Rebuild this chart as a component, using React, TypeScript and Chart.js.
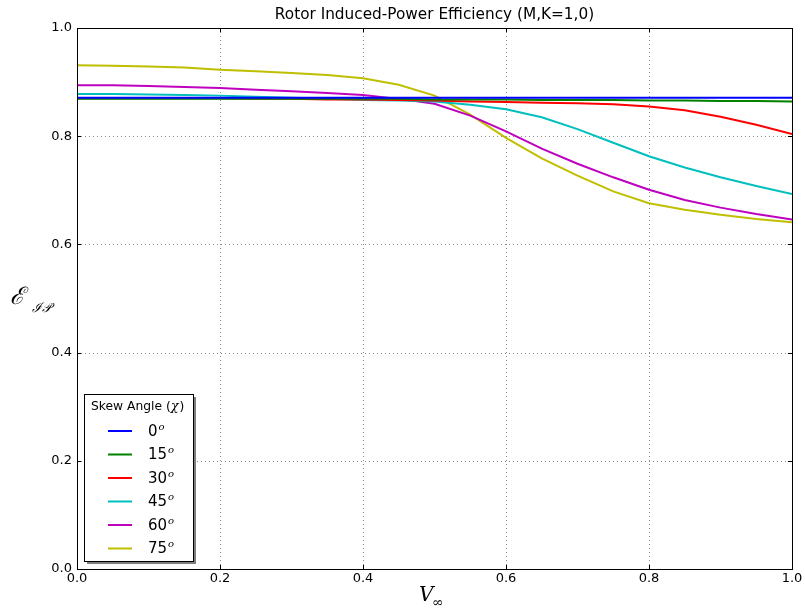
import React, { useEffect, useRef } from "react";
import { Chart, registerables } from "chart.js";

Chart.register(...registerables);

const speeds = [0, 0.05, 0.1, 0.15, 0.2, 0.25, 0.3, 0.35, 0.4, 0.45, 0.5, 0.55, 0.6, 0.65, 0.7, 0.75, 0.8, 0.85, 0.9, 0.95, 1.0];
const skew0 = [0.871, 0.871, 0.871, 0.871, 0.871, 0.871, 0.871, 0.871, 0.871, 0.871, 0.871, 0.871, 0.871, 0.871, 0.871, 0.871, 0.871, 0.871, 0.871, 0.871, 0.871];
const skew15 = [0.869, 0.869, 0.869, 0.869, 0.869, 0.869, 0.869, 0.869, 0.869, 0.869, 0.868, 0.868, 0.868, 0.867, 0.867, 0.867, 0.866, 0.866, 0.865, 0.865, 0.864];
const skew30 = [0.870, 0.870, 0.870, 0.870, 0.870, 0.869, 0.869, 0.868, 0.868, 0.867, 0.866, 0.864, 0.863, 0.862, 0.861, 0.859, 0.855, 0.848, 0.836, 0.821, 0.804];
const skew45 = [0.878, 0.878, 0.877, 0.876, 0.875, 0.873, 0.871, 0.869, 0.867, 0.866, 0.864, 0.858, 0.850, 0.835, 0.813, 0.788, 0.763, 0.742, 0.724, 0.708, 0.693];
const skew60 = [0.894, 0.894, 0.893, 0.891, 0.889, 0.886, 0.883, 0.880, 0.876, 0.869, 0.860, 0.838, 0.809, 0.777, 0.749, 0.724, 0.701, 0.682, 0.668, 0.656, 0.646];
const skew75 = [0.931, 0.930, 0.929, 0.927, 0.923, 0.920, 0.917, 0.913, 0.907, 0.895, 0.875, 0.840, 0.797, 0.759, 0.727, 0.698, 0.676, 0.664, 0.655, 0.647, 0.641];
const tickValues = [0, 0.2, 0.4, 0.6, 0.8, 1.0];
const seriesNames = ["0", "15", "30", "45", "60", "75"];
const seriesColors = ["#0000ff", "#008000", "#ff0000", "#00bfbf", "#bf00bf", "#bfbf00"];
const titleText = "Rotor Induced-Power Efficiency (M,K=1,0)";
const legendTitle = "Skew Angle (";

const SANS = "'DejaVu Sans', sans-serif";
const SERIF = "'DejaVu Serif', serif";

const drawPlugin = {
  id: "mplStyle",
  beforeDatasetsDraw(chart: any) {
    const { ctx, chartArea: a, scales } = chart;
    ctx.save();
    ctx.strokeStyle = "#8a8a8a";
    ctx.lineWidth = 1;
    ctx.setLineDash([1, 3]);
    for (const t of tickValues) {
      const x = Math.round(scales.x.getPixelForValue(t)) + 0.5;
      ctx.beginPath();
      ctx.moveTo(x, a.top);
      ctx.lineTo(x, a.bottom);
      ctx.stroke();
      const y = Math.round(scales.y.getPixelForValue(t)) + 0.5;
      ctx.beginPath();
      ctx.moveTo(a.left, y);
      ctx.lineTo(a.right, y);
      ctx.stroke();
    }
    ctx.restore();
  },
  afterDraw(chart: any) {
    const { ctx, chartArea: a, scales } = chart;
    ctx.save();
    // frame
    ctx.strokeStyle = "#000";
    ctx.lineWidth = 1;
    ctx.setLineDash([]);
    ctx.strokeRect(Math.round(a.left) + 0.5, Math.round(a.top) + 0.5, Math.round(a.right - a.left), Math.round(a.bottom - a.top));
    // ticks inward
    for (const t of tickValues) {
      const x = Math.round(scales.x.getPixelForValue(t)) + 0.5;
      ctx.beginPath();
      ctx.moveTo(x, a.bottom);
      ctx.lineTo(x, a.bottom - 4);
      ctx.moveTo(x, a.top);
      ctx.lineTo(x, a.top + 4);
      ctx.stroke();
      const y = Math.round(scales.y.getPixelForValue(t)) + 0.5;
      ctx.beginPath();
      ctx.moveTo(a.left, y);
      ctx.lineTo(a.left + 4, y);
      ctx.moveTo(a.right, y);
      ctx.lineTo(a.right - 4, y);
      ctx.stroke();
    }
    // tick labels
    ctx.fillStyle = "#000";
    ctx.font = `13px ${SANS}`;
    ctx.textAlign = "center";
    ctx.textBaseline = "top";
    for (const t of tickValues) {
      ctx.fillText(t.toFixed(1), scales.x.getPixelForValue(t), a.bottom + 3);
    }
    ctx.textAlign = "right";
    ctx.textBaseline = "middle";
    for (const t of tickValues) {
      ctx.fillText(t.toFixed(1), a.left - 5, scales.y.getPixelForValue(t));
    }
    // title
    ctx.font = `15.3px ${SANS}`;
    ctx.textAlign = "center";
    ctx.textBaseline = "middle";
    ctx.fillText(titleText, (a.left + a.right) / 2, 15);
    // x label
    ctx.textAlign = "left";
    ctx.textBaseline = "alphabetic";
    ctx.font = `italic 20px ${SERIF}`;
    ctx.fillText("V", 419, 601);
    ctx.font = `14px ${SERIF}`;
    ctx.fillText("\u221e", 432, 607);
    // y label
    ctx.font = `italic 24px ${SERIF}`;
    ctx.fillText("\u2130", 10, 304);
    ctx.font = `italic 13px ${SERIF}`;
    ctx.fillText("\u2110\ud835\udcab", 32, 312);
    // legend
    const lx = 84, ly = 394, lw = 109, lh = 167;
    ctx.fillStyle = "rgba(0,0,0,0.5)";
    ctx.fillRect(lx + 3, ly + 3, lw, lh);
    ctx.fillStyle = "#fff";
    ctx.fillRect(lx, ly, lw, lh);
    ctx.strokeStyle = "#000";
    ctx.strokeRect(lx + 0.5, ly + 0.5, lw, lh);
    ctx.fillStyle = "#000";
    ctx.font = `12.3px ${SANS}`;
    ctx.textBaseline = "middle";
    ctx.textAlign = "left";
    ctx.fillText(legendTitle, 91, 407);
    const tw = ctx.measureText(legendTitle).width;
    ctx.font = `italic 13px ${SERIF}`;
    ctx.fillText("\u03c7", 91 + tw, 407);
    const cw = ctx.measureText("\u03c7").width;
    ctx.font = `12.3px ${SANS}`;
    ctx.fillText(")", 91 + tw + cw + 1, 407);
    const rows = [431, 454.5, 478, 501.5, 525, 548.5];
    seriesNames.forEach((n, i) => {
      const y = rows[i];
      ctx.strokeStyle = seriesColors[i];
      ctx.lineWidth = 2;
      ctx.beginPath();
      ctx.moveTo(108, y);
      ctx.lineTo(132, y);
      ctx.stroke();
      ctx.fillStyle = "#000";
      ctx.font = `15px ${SANS}`;
      ctx.textBaseline = "middle";
      ctx.fillText(n, 148, y + 1);
      const w = ctx.measureText(n).width;
      ctx.font = `italic 10px ${SERIF}`;
      ctx.fillText("o", 148 + w + 1, y - 4);
    });
    ctx.restore();
  },
};

export default function App() {
  const ref = useRef<HTMLCanvasElement | null>(null);
  useEffect(() => {
    document.body.style.margin = "0";
    const seriesValues = [skew0, skew15, skew30, skew45, skew60, skew75];
    const chart = new Chart(ref.current as HTMLCanvasElement, {
      type: "line",
      data: {
        datasets: seriesValues.map((vals, i) => ({
          label: seriesNames[i],
          data: speeds.map((s, j) => ({ x: s, y: vals[j] })),
          borderColor: seriesColors[i],
          backgroundColor: seriesColors[i],
          borderWidth: 2,
          pointRadius: 0,
          tension: 0,
          fill: false,
        })),
      },
      options: {
        responsive: false,
        animation: false,
        events: [],
        layout: { padding: { left: 77, right: 13, top: 28, bottom: 44 } },
        scales: {
          x: { type: "linear", min: 0, max: 1, display: false },
          y: { type: "linear", min: 0, max: 1, display: false },
        },
        plugins: { legend: { display: false }, tooltip: { enabled: false }, title: { display: false } },
      },
      plugins: [drawPlugin],
    } as any);
    return () => chart.destroy();
  }, []);
  return (
    <div style={{ width: 805, height: 613, background: "#fff" }}>
      <canvas ref={ref} width={805} height={613} style={{ display: "block" }} />
    </div>
  );
}
